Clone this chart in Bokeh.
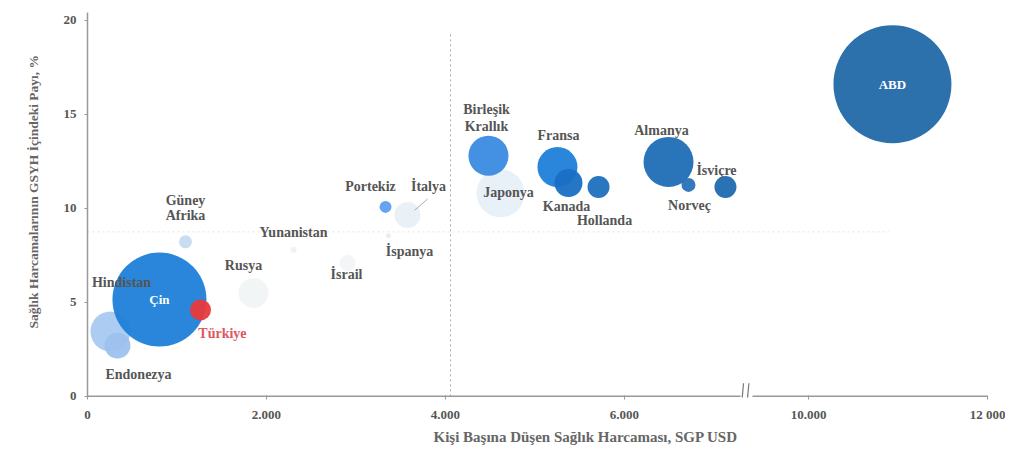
from bokeh.plotting import figure
from bokeh.models import Range1d, Label, FixedTicker, Title
from bokeh.embed import file_html
from bokeh.resources import INLINE

# ---- data ----
countries = ["Rusya", "İsrail", "Yunanistan", "İspanya", "İtalya", "Japonya", "Güney Afrika",
             "Hindistan", "Endonezya", "Çin", "Türkiye", "Portekiz", "Birleşik Krallık",
             "Fransa", "Kanada", "Hollanda", "Almanya", "Norveç", "İsviçre", "ABD"]
spend = [1855, 2905, 2302, 3363, 3575, 4615, 1095, 257, 335, 804, 1263, 3330, 4480,
         5251, 5374, 5710, 6492, 6715, 7128, 10938]
share = [5.5, 7.1, 7.8, 8.54, 9.65, 10.8, 8.22, 3.45, 2.7, 5.15, 4.6, 10.08, 12.8,
         12.2, 11.35, 11.14, 12.47, 11.25, 11.14, 16.6]
bubble = [30, 16, 6, 5, 26, 48, 13, 40, 26, 94, 21, 12, 40, 40, 28, 22, 50, 14, 22, 118]
colors = ["#f1f4f6", "#f2f4f5", "#eef1f4", "#e6edf4", "#e8f0f5", "#e8f0f8", "#c6dbf1",
          "#a9c9f1", "#9dc1ee", "#1e7fd8", "#e8393c", "#5d9ff0", "#3a8ae0",
          "#1f7fd8", "#1a6fc4", "#1e6fbe", "#1f6db6", "#2a72b8", "#1e6ab0", "#2168a8"]

label_names = ["Hindistan", "Endonezya", "Türkiye", "Güney", "Afrika", "Rusya", "Yunanistan",
               "İsrail", "Portekiz", "İtalya", "İspanya", "Birleşik", "Krallık", "Japonya",
               "Fransa", "Kanada", "Hollanda", "Almanya", "İsviçre", "Norveç"]
label_x = [380, 570, 1508, 1095, 1095, 1743, 2302, 2894, 3162, 3810, 3598, 4458, 4458, 4704,
           5263, 5352, 5777, 6413, 7028, 6726]
label_y = [6.05, 1.17, 3.34, 10.4, 9.6, 6.95, 8.7, 6.47, 11.14, 11.14, 7.69, 15.28, 14.38,
           10.82, 13.9, 10.08, 9.34, 14.16, 11.99, 10.13]

x_ticks = [0, 2000, 4000, 6000, 10000, 12000]
x_tick_labels = ["0", "2.000", "4.000", "6.000", "10.000", "12 000"]
y_ticks = [0, 5, 10, 15, 20]

mean_spend = 4056
mean_share = 8.75

# axis break: values above BREAK are shifted left by GAP
BREAK = 8000
GAP = 1944


def tx(v):
    return v if v < BREAK else v - GAP


p = figure(width=1005, height=455, output_backend="svg", toolbar_location=None,
           x_range=Range1d(0, tx(12000)), y_range=Range1d(-0.06, 20.42),
           min_border_left=87, min_border_right=18, min_border_top=12, min_border_bottom=58)
p.outline_line_color = None
p.grid.grid_line_color = None
p.background_fill_color = "white"

# reference lines
p.line([mean_spend, mean_spend], [0, 19.3], line_color="#aaaaaa", line_dash="2 3", line_width=1)
p.line([0, tx(10900)], [mean_share, mean_share], line_color="#e4e4e4", line_dash="2 3", line_width=1)

# bubbles
xs = [tx(v) for v in spend]
p.scatter(x=xs, y=share, size=bubble, fill_color=colors, line_color=None, fill_alpha=0.95)

# leader line for İtalya
p.line([3800, 3655], [10.5, 9.9], line_color="#aaaaaa", line_width=1)

# labels
for n, lx, ly in zip(label_names, label_x, label_y):
    c = "#e05560" if n == "Türkiye" else "#555555"
    p.add_layout(Label(x=lx, y=ly, text=n, text_align="center", text_baseline="middle",
                       text_font="Liberation Serif", text_font_style="bold",
                       text_font_size="14px", text_color=c))
for n in ["Çin", "ABD"]:
    i = countries.index(n)
    p.add_layout(Label(x=tx(spend[i]), y=share[i], text=n,
                       text_align="center", text_baseline="middle", text_font="Liberation Serif",
                       text_font_style="bold", text_font_size="13px", text_color="white"))

# axes
p.xaxis.axis_line_color = None
p.line([0, 7296], [0, 0], line_color="#999999", line_width=1.5)
p.line([7430, tx(12000)], [0, 0], line_color="#999999", line_width=1.5)
p.line([7305, 7330], [-0.6, 0.7], line_color="#777777", line_width=1.2)
p.line([7365, 7390], [-0.6, 0.7], line_color="#777777", line_width=1.2)

p.xaxis.ticker = FixedTicker(ticks=[tx(t) for t in x_ticks])
p.xaxis.major_label_overrides = {tx(t): l for t, l in zip(x_ticks, x_tick_labels)}
p.xaxis.major_tick_in = 2
p.xaxis.major_tick_out = 2
p.xaxis.major_tick_line_color = "#999999"
p.xaxis.minor_tick_line_color = None
p.xaxis.major_label_standoff = 7
p.xaxis.major_label_text_font = "Liberation Serif"
p.xaxis.major_label_text_font_style = "bold"
p.xaxis.major_label_text_font_size = "13px"
p.xaxis.major_label_text_color = "#555555"

p.yaxis.ticker = FixedTicker(ticks=y_ticks)
p.yaxis.axis_line_color = "#999999"
p.yaxis.axis_line_width = 1.5
p.yaxis.major_tick_in = 0
p.yaxis.major_tick_out = 3
p.yaxis.major_tick_line_color = "#999999"
p.yaxis.minor_tick_line_color = None
p.yaxis.major_label_standoff = 8
p.yaxis.major_label_text_font = "Liberation Serif"
p.yaxis.major_label_text_font_style = "bold"
p.yaxis.major_label_text_font_size = "13px"
p.yaxis.major_label_text_color = "#555555"

# axis titles
p.add_layout(Title(text="Kişi Başına Düşen Sağlık Harcaması, SGP USD", align="left", offset=346,
                   text_font="Liberation Serif", text_font_style="bold",
                   text_font_size="15px", text_color="#666666", standoff=4), "below")
p.add_layout(Title(text="Sağlık Harcamalarının GSYH İçindeki Payı, %", align="left", offset=69,
                   text_font="Liberation Serif", text_font_style="bold",
                   text_font_size="13.5px", text_color="#666666", standoff=40), "left")

open("out.html", "w").write(file_html(p, INLINE))
